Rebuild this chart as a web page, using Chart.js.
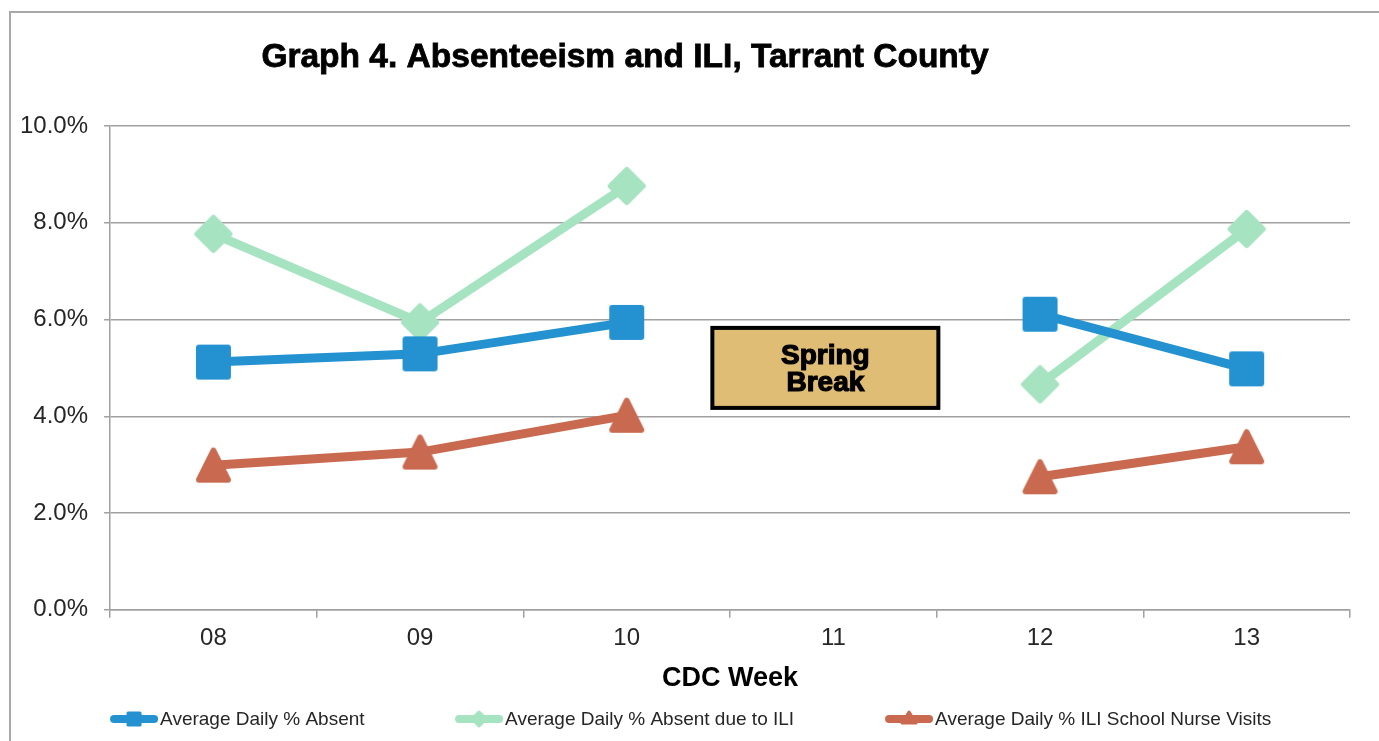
<!DOCTYPE html>
<html lang="en">
<head>
  <meta charset="UTF-8">
  <title>Graph 4. Absenteeism and ILI, Tarrant County</title>
  <script src="https://cdn.jsdelivr.net/npm/chart.js"></script>
  <style>
    html, body { margin: 0; padding: 0; background: #fff; }
    .chart-box { position: relative; width: 1379px; height: 741px; }
  </style>
</head>
<body>
  <div class="chart-box">
    <canvas id="absenteeismChart"></canvas>
  </div>

  <script>
    // Chart data
    const weeks = ["08", "09", "10", "11", "12", "13"];
    const absentPct = [5.12, 5.29, 5.94, null, 6.11, 4.98];
    const iliAbsentPct = [7.77, 5.94, 8.76, null, 4.66, 7.87];
    const nurseVisitPct = [2.99, 3.26, 4.02, null, 2.75, 3.37];
    const seriesNames = [
      "Average Daily % Absent",
      "Average Daily % Absent due to ILI",
      "Average Daily % ILI School Nurse Visits"
    ];
    const yTickValues = [0, 2, 4, 6, 8, 10];
    const chartTitle = "Graph 4. Absenteeism and ILI, Tarrant County";
    const xAxisTitle = "CDC Week";
    const noteLines = ["Spring", "Break"];

    const colors = ["#2492d0", "#a6e3c1", "#c96a50"];
    const gridGray = "#a0a0a0";
    const textColor = "#262626";
    const fontFamily = "'Liberation Sans', Arial, sans-serif";

    // marker images (rounded square / diamond / triangle) so corners look like Excel's
    function markerCanvas(kind, color, size) {
      const c = document.createElement("canvas");
      c.width = size + 6;
      c.height = size + 6;
      const g = c.getContext("2d");
      const m = c.width / 2;
      const h = size / 2 - 3;
      g.fillStyle = color;
      g.strokeStyle = color;
      g.lineWidth = 6;
      g.lineJoin = "round";
      g.beginPath();
      if (kind === "square") {
        g.rect(m - h, m - h, 2 * h, 2 * h);
      } else if (kind === "diamond") {
        g.moveTo(m, m - h); g.lineTo(m + h, m); g.lineTo(m, m + h); g.lineTo(m - h, m);
        g.closePath();
      } else {
        g.moveTo(m, m - h); g.lineTo(m + h, m + h); g.lineTo(m - h, m + h);
        g.closePath();
      }
      g.fill();
      g.stroke();
      return c;
    }

    const markers = [
      markerCanvas("square", colors[0], 35),
      markerCanvas("diamond", colors[1], 38),
      markerCanvas("triangle", colors[2], 35)
    ];

    // frame, title, spring break note and legend drawn on the canvas
    const decorPlugin = {
      id: "decor",
      beforeDraw(chart) {
        const ctx = chart.ctx;
        ctx.save();
        ctx.fillStyle = "#fff";
        ctx.fillRect(0, 0, chart.width, chart.height);
        ctx.strokeStyle = "#a8a8a8";
        ctx.lineWidth = 2;
        ctx.beginPath();
        ctx.moveTo(10, chart.height);
        ctx.lineTo(10, 12);
        ctx.lineTo(chart.width, 12);
        ctx.stroke();

        ctx.fillStyle = "#000";
        ctx.strokeStyle = "#000";
        ctx.lineWidth = 0.8;
        ctx.font = "bold 33.5px " + fontFamily;
        ctx.textAlign = "center";
        ctx.textBaseline = "middle";
        ctx.fillText(chartTitle, 625, 58);
        ctx.strokeText(chartTitle, 625, 58);
        ctx.restore();
      },
      afterDraw(chart) {
        const ctx = chart.ctx;
        const xs = chart.scales.x;
        const ys = chart.scales.y;
        const area = chart.chartArea;

        // Spring Break box
        const cx = xs.getPixelForValue(3) - 8;
        const cy = ys.getPixelForValue(5.0);
        const bw = 226, bh = 80;
        ctx.save();
        ctx.fillStyle = "#dfbd75";
        ctx.fillRect(cx - bw / 2, cy - bh / 2, bw, bh);
        ctx.strokeStyle = "#000";
        ctx.lineWidth = 4;
        ctx.strokeRect(cx - bw / 2, cy - bh / 2, bw, bh);
        ctx.fillStyle = "#000";
        ctx.lineWidth = 1.2;
        ctx.font = "bold 28px " + fontFamily;
        ctx.textAlign = "center";
        ctx.textBaseline = "middle";
        ctx.fillText(noteLines[0], cx, cy - 12);
        ctx.strokeText(noteLines[0], cx, cy - 12);
        ctx.fillText(noteLines[1], cx, cy + 15);
        ctx.strokeText(noteLines[1], cx, cy + 15);

        // Legend
        const offsets = [0, 345, 775];
        const ly = 719;
        ctx.font = "19px " + fontFamily;
        ctx.textAlign = "left";
        seriesNames.forEach((name, i) => {
          const x0 = area.left + offsets[i];
          ctx.strokeStyle = colors[i];
          ctx.fillStyle = colors[i];
          ctx.lineWidth = 8;
          ctx.lineCap = "round";
          ctx.lineJoin = "round";
          ctx.beginPath();
          ctx.moveTo(x0 + 4, ly);
          ctx.lineTo(x0 + 44, ly);
          ctx.stroke();
          const mx = x0 + 24;
          ctx.lineWidth = 3;
          ctx.beginPath();
          if (i === 0) {
            ctx.rect(mx - 6, ly - 6, 12, 12);
          } else if (i === 1) {
            ctx.moveTo(mx, ly - 7); ctx.lineTo(mx + 7, ly);
            ctx.lineTo(mx, ly + 7); ctx.lineTo(mx - 7, ly);
            ctx.closePath();
          } else {
            ctx.moveTo(mx, ly - 7); ctx.lineTo(mx + 7, ly + 4);
            ctx.lineTo(mx - 7, ly + 4); ctx.closePath();
          }
          ctx.fill();
          ctx.stroke();
          ctx.fillStyle = textColor;
          ctx.fillText(name, x0 + 50, ly + 1);
        });
        ctx.restore();
      }
    };

    function makeDataset(i, values) {
      return {
        label: seriesNames[i],
        data: values,
        borderColor: colors[i],
        backgroundColor: colors[i],
        borderWidth: 9,
        pointStyle: markers[i],
        pointRadius: 18,
        pointHoverRadius: 18,
        spanGaps: false,
        tension: 0
      };
    }

    new Chart(document.getElementById("absenteeismChart").getContext("2d"), {
      type: "line",
      data: {
        labels: weeks,
        datasets: [
          makeDataset(0, absentPct),
          makeDataset(1, iliAbsentPct),
          makeDataset(2, nurseVisitPct)
        ]
      },
      options: {
        responsive: true,
        maintainAspectRatio: false,
        animation: false,
        events: [],
        layout: { padding: { top: 126, left: 4, right: 29, bottom: 42 } },
        plugins: {
          legend: { display: false },
          title: { display: false },
          tooltip: { enabled: false }
        },
        scales: {
          x: {
            offset: true,
            grid: {
              display: true,
              drawOnChartArea: false,
              drawTicks: true,
              tickLength: 8,
              color: gridGray,
              lineWidth: 1.5,
              offset: true
            },
            border: { color: gridGray, width: 1.5 },
            ticks: {
              color: textColor,
              padding: 6,
              font: { family: fontFamily, size: 24 }
            },
            title: {
              display: true,
              text: xAxisTitle,
              color: "#000",
              padding: { top: 4, bottom: 4 },
              font: { family: fontFamily, size: 27, weight: "bold" }
            }
          },
          y: {
            min: 0,
            max: 10,
            afterBuildTicks(axis) {
              axis.ticks = yTickValues.map(v => ({ value: v }));
            },
            grid: {
              color: gridGray,
              lineWidth: 1.5,
              drawTicks: true,
              tickLength: 6
            },
            border: { color: gridGray, width: 1.5 },
            ticks: {
              color: textColor,
              padding: 16,
              font: { family: fontFamily, size: 24 },
              callback: v => v.toFixed(1) + "%"
            }
          }
        }
      },
      plugins: [decorPlugin]
    });
  </script>
</body>
</html>
